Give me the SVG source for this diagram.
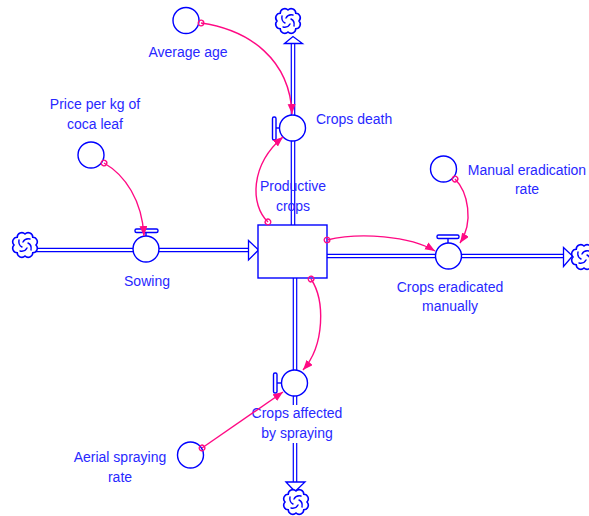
<svg xmlns="http://www.w3.org/2000/svg" width="589" height="516" viewBox="0 0 589 516">
  <style>
    .pipe-outer { stroke: #0000ff; stroke-width: 4.6; fill: none; }
    .pipe-inner { stroke: #ffffff; stroke-width: 2.2; fill: none; }
    .shape { stroke: #0000ff; stroke-width: 1.4; fill: #ffffff; }
    .head { stroke: #0000ff; stroke-width: 1.3; fill: #ffffff; stroke-linejoin: miter; }
    .link { stroke: #ff0a84; stroke-width: 1.4; fill: none; marker-start: url(#origin); marker-end: url(#tip); }
    .label { font-family: "Liberation Sans", Arial, sans-serif; font-size: 14px; fill: #2828ff; text-anchor: middle; }
    .cloud { stroke: #0000ff; stroke-width: 1.6; fill: #ffffff; }
    .swirl { stroke: #0000ff; stroke-width: 1.4; fill: none; stroke-linecap: round; }
  </style>
  <defs>
    <marker id="tip" markerUnits="userSpaceOnUse" markerWidth="11" markerHeight="9" refX="10" refY="4" orient="auto">
      <path d="M0,0 L10,4 L0,8 z" fill="#ff0a84"/>
    </marker>
    <marker id="origin" markerUnits="userSpaceOnUse" markerWidth="8" markerHeight="8" refX="4" refY="4" orient="auto">
      <circle cx="4" cy="4" r="2.8" fill="none" stroke="#ff0a84" stroke-width="1.3"/>
    </marker>
    <!-- source / sink cloud: scalloped outline with a pinwheel inside -->
    <g id="cloudShape">
      <path class="cloud" d="M11,0 A4.6,4.6 0 0 1 7.78,7.78 A4.6,4.6 0 0 1 0,11 A4.6,4.6 0 0 1 -7.78,7.78 A4.6,4.6 0 0 1 -11,0 A4.6,4.6 0 0 1 -7.78,-7.78 A4.6,4.6 0 0 1 0,-11 A4.6,4.6 0 0 1 7.78,-7.78 A4.6,4.6 0 0 1 11,0 z"/>
      <path class="swirl" d="M-6,-5 Q-7,0 -3,2 M5,-6 Q0,-7 -2,-3 M6,5 Q7,0 3,-2 M-5,6 Q0,7 2,3"/>
    </g>
  </defs>

  <rect width="589" height="516" fill="#ffffff"/>

  <!-- flow pipes -->
  <g id="pipes">
    <path class="pipe-outer" d="M36,250 H249"/>
    <path class="pipe-inner" d="M36,250 H250"/>
    <path class="pipe-outer" d="M293,225 V43"/>
    <path class="pipe-inner" d="M293,226 V42"/>
    <path class="pipe-outer" d="M327,256 H564"/>
    <path class="pipe-inner" d="M326,256 H565"/>
    <path class="pipe-outer" d="M295,278 V483"/>
    <path class="pipe-inner" d="M295,277 V484"/>
    <!-- pipe arrowheads -->
    <path class="head" d="M248.5,240.5 L258.5,250 L248.5,260 z"/>
    <path class="head" d="M284.5,43.5 L293,36.5 L302.5,43.5 z"/>
    <path class="head" d="M563.5,247.5 L572.5,256 L563.5,266.5 z"/>
    <path class="head" d="M286,482 L295,491.5 L305,482 z"/>
  </g>

  <!-- clouds -->
  <g id="cloud-left"><use href="#cloudShape" x="25" y="245"/></g>
  <g id="cloud-top"><use href="#cloudShape" x="288" y="21"/></g>
  <g id="cloud-right"><use href="#cloudShape" x="584" y="257"/></g>
  <g id="cloud-bottom"><use href="#cloudShape" x="296" y="502"/></g>

  <!-- stock -->
  <g id="productive-crops">
    <rect class="shape" x="258" y="225" width="69" height="53"/>
    <text class="label" x="293" y="191">Productive</text>
    <text class="label" x="293" y="211">crops</text>
  </g>

  <!-- valves -->
  <g id="sowing">
    <line x1="146" y1="232" x2="146" y2="236" stroke="#0000ff" stroke-width="1.4"/>
    <rect class="shape" x="135" y="229" width="23" height="3.5" rx="1.5"/>
    <circle class="shape" cx="146" cy="249" r="13"/>
    <text class="label" x="147" y="286">Sowing</text>
  </g>

  <g id="crops-death">
    <line x1="276" y1="128" x2="280" y2="128" stroke="#0000ff" stroke-width="1.4"/>
    <rect class="shape" x="272.5" y="117" width="3.5" height="23" rx="1.5"/>
    <circle class="shape" cx="292.5" cy="128" r="13"/>
    <text class="label" x="316" y="124" style="text-anchor:start">Crops death</text>
  </g>

  <g id="crops-eradicated-manually">
    <line x1="448" y1="238" x2="448" y2="243" stroke="#0000ff" stroke-width="1.4"/>
    <rect class="shape" x="437" y="235" width="22" height="3.5" rx="1.5"/>
    <circle class="shape" cx="448.5" cy="256" r="13"/>
    <text class="label" x="450" y="292">Crops eradicated</text>
    <text class="label" x="450" y="311">manually</text>
  </g>

  <g id="crops-affected-by-spraying">
    <line x1="277" y1="383" x2="282" y2="383" stroke="#0000ff" stroke-width="1.4"/>
    <rect class="shape" x="273.5" y="373" width="3.5" height="20" rx="1.5"/>
    <circle class="shape" cx="294.5" cy="383" r="13"/>
    <rect x="250" y="405" width="96" height="38" fill="#ffffff"/>
    <text class="label" x="297" y="418">Crops affected</text>
    <text class="label" x="297" y="438">by spraying</text>
  </g>

  <!-- auxiliaries -->
  <g id="average-age">
    <circle class="shape" cx="186" cy="20.5" r="13"/>
    <text class="label" x="188" y="57">Average age</text>
  </g>

  <g id="price-per-kg">
    <circle class="shape" cx="91" cy="155" r="13"/>
    <text class="label" x="95" y="109">Price per kg of</text>
    <text class="label" x="95" y="129">coca leaf</text>
  </g>

  <g id="manual-eradication-rate">
    <circle class="shape" cx="443.5" cy="169" r="13"/>
    <text class="label" x="527" y="175">Manual eradication</text>
    <text class="label" x="527" y="194">rate</text>
  </g>

  <g id="aerial-spraying-rate">
    <circle class="shape" cx="190.5" cy="455" r="13"/>
    <text class="label" x="120" y="462">Aerial spraying</text>
    <text class="label" x="120" y="482">rate</text>
  </g>

  <!-- information links -->
  <g id="links">
    <path class="link" d="M201,23 C250,30 290,60 292,114"/>
    <path class="link" d="M104,163 C125,175 142,200 144,236"/>
    <path class="link" d="M455,179 C468,192 474,222 460,243"/>
    <path class="link" d="M327,240 C360,232 410,236 435,251"/>
    <path class="link" d="M268,222 C250,205 250,165 283,137"/>
    <path class="link" d="M311,279 C325,300 325,345 303,370"/>
    <path class="link" d="M202,448 L283,392"/>
  </g>
</svg>
